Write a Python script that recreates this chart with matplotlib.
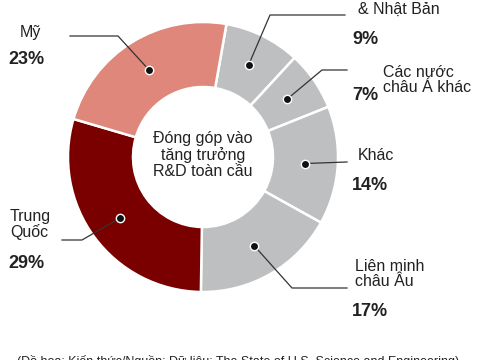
import numpy as np
import matplotlib
matplotlib.use("Agg")
import matplotlib.pyplot as plt

plt.rcParams['font.family'] = ['Liberation Sans', 'DejaVu Sans']

# data (clockwise from just right of 12 o'clock)
regions = ["Hàn Quốc\n& Nhật Bản", "Các nước\nchâu Á khác", "Khác",
           "Liên minh\nchâu Âu", "Trung\nQuốc", "Mỹ"]
shares = [9, 7, 14, 17, 29, 23]
colors = ["#BEBFC1", "#BEBFC1", "#BEBFC1", "#BEBFC1", "#7A0000", "#DE877A"]
center_text = "Đóng góp vào\ntăng trưởng\nR&D toàn cầu"
source_text = "(Đồ họa: Kiến thức/Nguồn: Dữ liệu: The State of U.S. Science and Engineering)"

W, H = 480, 360


def py(y):
    # pixel row (from top) -> axes y
    return H - y


fig = plt.figure(figsize=(4.8, 3.6), dpi=100)
ax = fig.add_axes([0, 0, 1, 1])

cx, cy, r_out, r_in = 203, py(157), 135, 70
start = 80  # degrees, counterclockwise from 3 o'clock
wedges, _ = ax.pie(shares, colors=colors, startangle=start, counterclock=False,
                   center=(cx, cy), radius=r_out, frame=True,
                   wedgeprops=dict(width=r_out - r_in, edgecolor='white', linewidth=1.8))
ax.set_xlim(0, W)
ax.set_ylim(0, H)
ax.set_aspect('equal')
ax.axis('off')

ax.text(cx, cy + 2, center_text, ha='center', va='center', fontsize=11.5,
        color='#222222', linespacing=1.05)

# layout of labels: elbow points in px, label pos, pct pos
layout = [
    dict(path=[(270, 15), (345, 15)], lab=(358, 17), pct=(352, 40), va='bottom', ls=1.6),
    dict(path=[(322, 70), (347, 70)], lab=(383, 80), pct=(352, 96), va='center', ls=1.0),
    dict(path=[(347, 162)], lab=(358, 155), pct=(352, 185), va='center', ls=1.0),
    dict(path=[(292, 288), (347, 288)], lab=(355, 274), pct=(352, 312), va='center', ls=1.0),
    dict(path=[(82, 240), (62, 240)], lab=(10, 224), pct=(8, 263), va='center', ls=1.0),
    dict(path=[(118, 36), (70, 36)], lab=(20, 33), pct=(8, 60), va='center', ls=1.0),
]

r_mid = (r_out + r_in) / 2
for w, name, val, lay in zip(wedges, regions, shares, layout):
    ang = np.deg2rad((w.theta1 + w.theta2) / 2)
    dx, dy = cx + r_mid * np.cos(ang), cy + r_mid * np.sin(ang)
    xs = [dx] + [p[0] for p in lay['path']]
    ys = [dy] + [py(p[1]) for p in lay['path']]
    ax.plot(xs, ys, color='#333333', lw=0.9, zorder=3)
    ax.plot(dx, dy, 'o', ms=6, color='#111111', mec='white', mew=1, zorder=4)
    ax.text(lay['lab'][0], py(lay['lab'][1]), name, ha='left', va=lay['va'],
            fontsize=11.5, color='#222222', linespacing=lay['ls'])
    ax.text(lay['pct'][0], py(lay['pct'][1]), f"{val}%", ha='left', va='center',
            fontsize=13, fontweight='bold', color='#222222')

ax.text(17, py(355), source_text, ha='left', va='top', fontsize=9, color='#222222')

fig.savefig("out.png", dpi=100)
